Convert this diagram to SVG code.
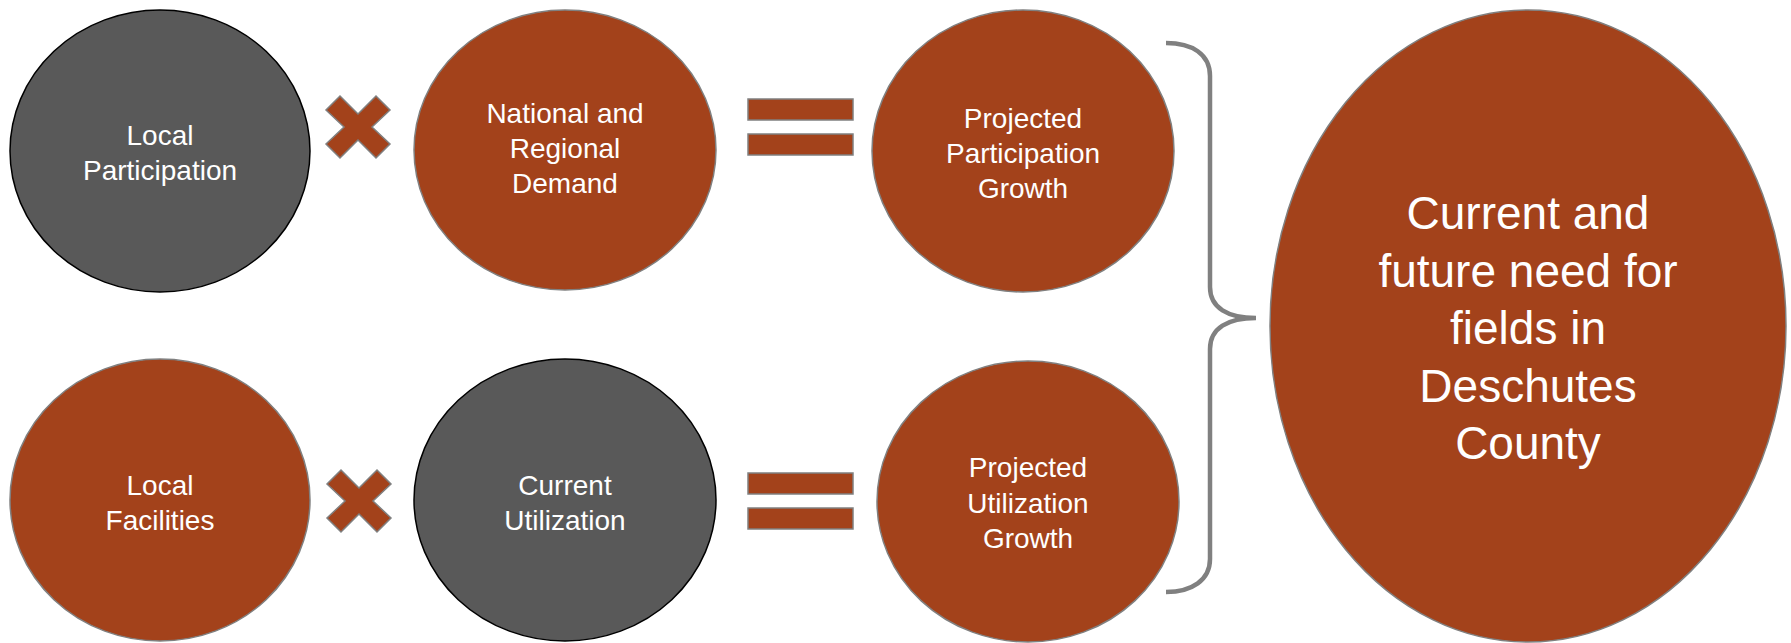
<svg xmlns="http://www.w3.org/2000/svg" width="1791" height="643" viewBox="0 0 1791 643">
<style>
.org{fill:#A3421B;stroke:#808080;stroke-width:1.5}
.gry{fill:#595959;stroke:#000;stroke-width:1.5}
.t{font-family:"Liberation Sans",Arial,sans-serif;font-size:28px;fill:#fff;text-anchor:middle}
.tb{font-family:"Liberation Sans",Arial,sans-serif;font-size:46px;fill:#fff;text-anchor:middle}
.brace{fill:none;stroke:#808080;stroke-width:4.5}
</style>
<defs>
<polygon id="times" points="-18,-31 0,-13 18,-31 32,-17 14,0 32,17 18,31 0,13 -18,31 -32,17 -14,0 -32,-17"/>
<g id="eq">
<rect x="0" y="0" width="105" height="21"/>
<rect x="0" y="35" width="105" height="21"/>
</g>
</defs>
<rect width="1791" height="643" fill="#fff"/>
<g id="local-participation">
<ellipse class="gry" cx="160" cy="151" rx="150" ry="141"/>
<text class="t" x="160" y="145">Local</text>
<text class="t" x="160" y="180">Participation</text>
</g>
<g id="times-top" class="org"><use href="#times" x="358" y="127"/></g>
<g id="national-regional-demand">
<ellipse class="org" cx="565" cy="150" rx="151" ry="140"/>
<text class="t" x="565" y="123">National and</text>
<text class="t" x="565" y="158">Regional</text>
<text class="t" x="565" y="193">Demand</text>
</g>
<g id="equals-top" class="org"><use href="#eq" x="748" y="99"/></g>
<g id="projected-participation-growth">
<ellipse class="org" cx="1023" cy="151" rx="151" ry="141"/>
<text class="t" x="1023" y="128">Projected</text>
<text class="t" x="1023" y="163">Participation</text>
<text class="t" x="1023" y="198">Growth</text>
</g>
<g id="local-facilities">
<ellipse class="org" cx="160" cy="500" rx="150" ry="141"/>
<text class="t" x="160" y="495">Local</text>
<text class="t" x="160" y="530">Facilities</text>
</g>
<g id="times-bottom" class="org"><use href="#times" x="359" y="501"/></g>
<g id="current-utilization">
<ellipse class="gry" cx="565" cy="500" rx="151" ry="141"/>
<text class="t" x="565" y="495">Current</text>
<text class="t" x="565" y="530">Utilization</text>
</g>
<g id="equals-bottom" class="org"><use href="#eq" x="748" y="473"/></g>
<g id="projected-utilization-growth">
<ellipse class="org" cx="1028" cy="501.5" rx="151" ry="140.5"/>
<text class="t" x="1028" y="477">Projected</text>
<text class="t" x="1028" y="513">Utilization</text>
<text class="t" x="1028" y="548">Growth</text>
</g>
<g id="connectors">
<path class="brace" d="M1166,43 C1192,43 1210,54 1210,76 L1210,287 C1210,308 1228,318 1256,318 C1228,318 1210,328 1210,349 L1210,559 C1210,580 1192,592 1166,592"/>
</g>
<g id="current-future-need">
<ellipse class="org" cx="1528" cy="326" rx="258" ry="316"/>
<text class="tb" x="1528" y="229">Current and</text>
<text class="tb" x="1528" y="287">future need for</text>
<text class="tb" x="1528" y="344">fields in</text>
<text class="tb" x="1528" y="402">Deschutes</text>
<text class="tb" x="1528" y="459">County</text>
</g>
</svg>
